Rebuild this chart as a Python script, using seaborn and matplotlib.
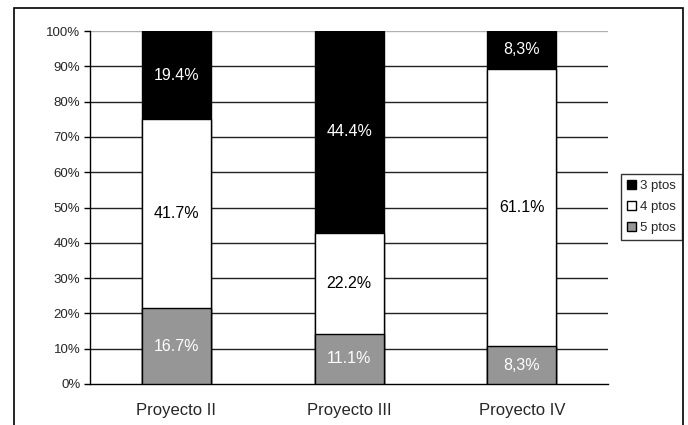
import matplotlib
matplotlib.use("Agg")
import matplotlib.pyplot as plt
import matplotlib.patches as mpatches
import numpy as np
import pandas as pd
import seaborn as sns

# Data (labels as printed, heights normalised to 100%)
projects = ["Proyecto II", "Proyecto III", "Proyecto IV"]
series = ["3 ptos", "4 ptos", "5 ptos"]
pts3 = [19.4, 44.4, 8.3]
pts4 = [41.7, 22.2, 61.1]
pts5 = [16.7, 11.1, 8.3]
label3 = ["19.4%", "44.4%", "8,3%"]
label4 = ["41.7%", "22.2%", "61.1%"]
label5 = ["16.7%", "11.1%", "8,3%"]

colors = {"3 ptos": "#000000", "4 ptos": "#ffffff", "5 ptos": "#969696"}

sns.set_style("white")
plt.rcParams["font.family"] = ["Liberation Sans", "DejaVu Sans"]

total = np.array(pts3) + np.array(pts4) + np.array(pts5)
s5 = np.array(pts5) / total * 100
s4 = np.array(pts4) / total * 100
s3 = np.array(pts3) / total * 100

df = pd.DataFrame({
    "Proyecto": projects,
    "top": s5 + s4 + s3,
    "mid": s5 + s4,
    "low": s5,
})

fig = plt.figure(figsize=(6.88, 4.25), dpi=100)
ax = fig.add_axes([0.131, 0.0965, 0.753, 0.8305])

# gridlines
for y in range(10, 100, 10):
    ax.axhline(y, color="#222222", lw=1, zorder=0)
ax.axhline(100, color="#b0b0b0", lw=1, zorder=0)

bw = 0.4
sns.barplot(data=df, x="Proyecto", y="top", color=colors["3 ptos"], width=bw,
            edgecolor="black", linewidth=1, ax=ax, zorder=2, saturation=1)
sns.barplot(data=df, x="Proyecto", y="mid", color=colors["4 ptos"], width=bw,
            edgecolor="black", linewidth=1, ax=ax, zorder=3, saturation=1)
sns.barplot(data=df, x="Proyecto", y="low", color=colors["5 ptos"], width=bw,
            edgecolor="black", linewidth=1, ax=ax, zorder=4, saturation=1)

# segment labels
for i in range(len(projects)):
    ax.text(i, s5[i] / 2, label5[i], ha="center", va="center", color="white",
            fontsize=11.5, zorder=6)
    ax.text(i, s5[i] + s4[i] / 2, label4[i], ha="center", va="center",
            color="black", fontsize=11.5, zorder=6)
    ax.text(i, s5[i] + s4[i] + s3[i] / 2, label3[i], ha="center", va="center",
            color="white", fontsize=11.5, zorder=6)

ax.set_xlim(-0.5, 2.5)
ax.set_ylim(0, 100)
ax.set_yticks(range(0, 101, 10))
ax.set_yticklabels([f"{v}%" for v in range(0, 101, 10)], fontsize=9.5)
ax.set_xlabel("")
ax.set_ylabel("")
ax.tick_params(axis="x", which="major", length=0, labelsize=12, pad=14)
ax.set_xticks([-0.5, 0.5, 1.5, 2.5], minor=True)
ax.tick_params(axis="x", which="minor", length=4, color="black", width=1,
               direction="out")
ax.tick_params(axis="y", length=4, color="black", width=1, direction="out",
               left=True, pad=3)

for side in ["top", "right"]:
    ax.spines[side].set_visible(False)
for side in ["left", "bottom"]:
    ax.spines[side].set_color("black")
    ax.spines[side].set_linewidth(1)

handles = [mpatches.Patch(facecolor=colors[s], edgecolor="black", label=s)
           for s in series]
leg = fig.legend(handles=handles, loc="center left", bbox_to_anchor=(0.902, 0.513),
                 fontsize=9.5, frameon=True, fancybox=False, handlelength=0.75,
                 handleheight=0.75, handletextpad=0.3, borderpad=0.45,
                 labelspacing=0.65, borderaxespad=0)
leg.get_frame().set_edgecolor("black")
leg.get_frame().set_linewidth(1)

# outer chart frame
fig.patches.append(mpatches.Rectangle((14 / 688, -0.1), (683 - 14) / 688, 1.1 - 8 / 425,
                                      transform=fig.transFigure, fill=False,
                                      edgecolor="black", linewidth=1.2))

fig.savefig("out.png", dpi=100)
